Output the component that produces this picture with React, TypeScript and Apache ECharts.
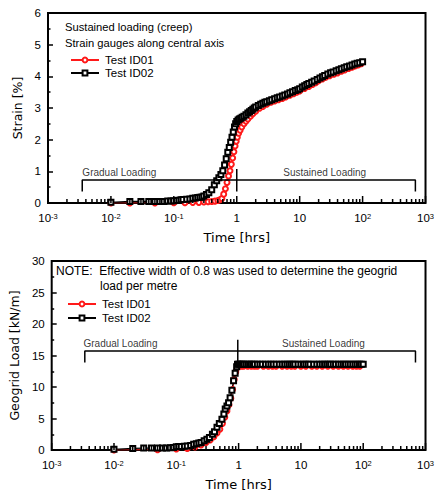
import React, { useEffect, useRef } from "react";
import * as echarts from "echarts";

// ---------- Data ----------
// Top: strain [%] vs time [hrs]
const strainTimeID01 = [0.01,0.02,0.05,0.1,0.15,0.2,0.25,0.3,0.35,0.4,0.45,0.5,0.54,0.58,0.62,0.66,0.7,0.74,0.78,0.82,0.86,0.9,0.94,0.98,1.02,1.07,1.13,1.2,1.3,1.4,1.5,1.65,1.8,2.0,2.3,2.6,3.0,3.5,4.0,4.6,5.3,6.0,7.0,8.0,9.0,10,12,14,16,18,20,23,26,30,35,40,46,52,60,68,76,85,95];
const strainID01 = [0,0,0,0.01,0.01,0.02,0.02,0.03,0.04,0.05,0.06,0.08,0.1,0.14,0.28,0.45,0.65,0.85,1.02,1.22,1.42,1.62,1.8,1.95,2.08,2.2,2.3,2.4,2.5,2.58,2.65,2.74,2.82,2.9,2.99,3.05,3.12,3.18,3.22,3.26,3.3,3.35,3.4,3.45,3.5,3.54,3.62,3.68,3.74,3.8,3.86,3.92,3.97,4.02,4.07,4.11,4.16,4.2,4.25,4.29,4.33,4.36,4.4];

const strainTimeID02 = [0.01,0.02,0.03,0.04,0.05,0.06,0.07,0.08,0.09,0.1,0.11,0.12,0.13,0.14,0.16,0.18,0.2,0.22,0.24,0.26,0.28,0.3,0.33,0.36,0.4,0.44,0.48,0.52,0.56,0.6,0.64,0.68,0.72,0.76,0.8,0.84,0.88,0.92,0.96,1.0,1.05,1.1,1.16,1.22,1.3,1.4,1.5,1.6,1.7,1.8,1.9,2.0,2.2,2.4,2.6,2.8,3.0,3.3,3.6,4.0,4.4,4.8,5.3,5.8,6.4,7.0,7.7,8.5,9.3,10,11,12,13,14,15.5,17,19,21,23,25,28,31,34,38,42,46,51,56,62,68,75,82,90,100];
const strainID02 = [0.02,0.05,0.05,0.05,0.05,0.05,0.05,0.06,0.06,0.07,0.08,0.09,0.1,0.11,0.12,0.13,0.15,0.16,0.17,0.18,0.19,0.22,0.27,0.32,0.42,0.58,0.7,0.8,0.9,1.02,1.2,1.4,1.6,1.75,1.92,2.08,2.24,2.4,2.5,2.57,2.62,2.65,2.68,2.71,2.74,2.79,2.84,2.88,2.92,2.96,3.0,3.03,3.08,3.12,3.15,3.18,3.2,3.23,3.26,3.29,3.32,3.35,3.38,3.41,3.44,3.48,3.51,3.55,3.58,3.61,3.66,3.7,3.74,3.77,3.81,3.85,3.9,3.95,3.99,4.03,4.07,4.11,4.14,4.18,4.21,4.24,4.27,4.3,4.33,4.36,4.39,4.41,4.43,4.46];

// Bottom: geogrid load [kN/m] vs time [hrs]
const loadTimeID01 = [0.01,0.05,0.1,0.15,0.2,0.25,0.3,0.35,0.4,0.45,0.5,0.55,0.6,0.65,0.7,0.75,0.8,0.85,0.9,0.95,1.0,1.1,1.2,1.4,1.6,1.8,2.0,2.5,3.0,3.5,4.0,5,6,7,8,10,12,15,18,22,27,33,40,48,57,68,78,88];
const loadID01 = [0,0.05,0.15,0.25,0.5,0.8,1.2,1.6,2.1,2.7,3.3,4.2,5.2,6.2,7.2,8.2,9.6,11.2,12.4,13.1,13.3,13.3,13.3,13.3,13.3,13.3,13.3,13.3,13.3,13.3,13.3,13.3,13.3,13.3,13.3,13.3,13.3,13.3,13.3,13.3,13.3,13.3,13.3,13.3,13.3,13.3,13.3,13.3];

const loadTimeID02 = [0.01,0.02,0.03,0.04,0.05,0.06,0.07,0.08,0.09,0.1,0.11,0.12,0.135,0.15,0.17,0.19,0.21,0.23,0.25,0.28,0.31,0.34,0.38,0.41,0.45,0.49,0.54,0.58,0.61,0.65,0.69,0.73,0.78,0.83,0.88,0.93,0.96,1.0,1.05,1.1,1.15,1.2,1.3,1.4,1.5,1.6,1.7,1.8,2.0,2.2,2.4,2.7,3.0,3.3,3.6,4.0,4.5,5,5.5,6,6.5,7,7.5,8,9,10,11,12,13,14,16,18,20,22,24,26,28,30,33,36,40,44,48,52,57,62,68,74,80,87,93,100];
const loadID02 = [0.1,0.25,0.3,0.3,0.3,0.3,0.3,0.35,0.4,0.5,0.55,0.55,0.6,0.65,0.7,0.9,1.0,1.1,1.2,1.45,1.7,2.0,2.5,2.9,3.6,4.2,4.9,5.7,6.5,7.0,7.5,8.3,9.5,11.0,12.2,13.2,13.6,13.6,13.6,13.6,13.6,13.6,13.6,13.6,13.6,13.6,13.6,13.6,13.6,13.6,13.6,13.6,13.6,13.6,13.6,13.6,13.6,13.6,13.6,13.6,13.6,13.6,13.6,13.6,13.6,13.6,13.6,13.6,13.6,13.6,13.6,13.6,13.6,13.6,13.6,13.6,13.6,13.6,13.6,13.6,13.6,13.6,13.6,13.6,13.6,13.6,13.6,13.6,13.6,13.6,13.6,13.6];

// Loading-phase brackets [time, value]
const strainBracketOuter = [[0.0035, 0.36], [0.0035, 0.73], [690, 0.73], [690, 0.36]];
const strainBracketMid = [[1, 1.07], [1, 0.36]];
const loadBracketOuter = [[0.0034, 13.9], [0.0034, 15.7], [690, 15.7], [690, 13.9]];
const loadBracketMid = [[0.97, 17.5], [0.97, 13.1]];
const strainPhaseLabels = [
  { name: "Gradual Loading", value: [0.0136, 0.73] },
  { name: "Sustained Loading", value: [25, 0.73] },
];
const loadPhaseLabels = [
  { name: "Gradual Loading", value: [0.0127, 15.7] },
  { name: "Sustained Loading", value: [23, 15.7] },
];

const seriesNames = ["Test ID01", "Test ID02"];
const RED = "#ff1a1a";

function zip(xs: number[], ys: number[]) {
  return xs.map((x, i) => [x, ys[i]]);
}

// log-axis tick positions: decades (major) and 2..9 (minor)
const logTicks: number[][] = [];
for (let e = -3; e <= 3; e++) {
  logTicks.push([Math.pow(10, e), 1]);
  if (e < 3) for (let m = 2; m <= 9; m++) logTicks.push([m * Math.pow(10, e), 0]);
}

export default function App() {
  const ref = useRef<HTMLDivElement>(null);
  useEffect(() => {
    document.body.style.margin = "0";
    const chart = echarts.init(ref.current!, null, { renderer: "svg" });
    const labelFont = "Liberation Sans";
    const titleFont = "DejaVu Sans";

    const xAxisFor = (gi: number) => ({
      type: "log",
      logBase: 10,
      gridIndex: gi,
      min: 0.001,
      max: 1000,
      splitNumber: 6,
      axisLine: { show: false },
      axisTick: { show: false },
      splitLine: { show: false },
      axisLabel: {
        color: "#000",
        fontFamily: labelFont,
        fontSize: 11.5,
        margin: 9,
        showMinLabel: true,
        showMaxLabel: true,
        formatter: (v: number) => {
          const e = Math.round(Math.log10(v));
          if (e === 0) return "1";
          if (e === 1) return "10";
          return "10{sup|" + e + "}";
        },
        rich: {
          sup: { fontSize: 7.5, fontFamily: labelFont, color: "#000", verticalAlign: "top", padding: [0, 0, 4, 0] },
        },
      },
      name: "Time [hrs]",
      nameLocation: "middle",
      nameGap: 28,
      nameTextStyle: { fontFamily: titleFont, fontSize: 13, color: "#000" },
    });

    const yAxisFor = (gi: number, max: number, interval: number, name: string, gap: number) => ({
      type: "value",
      gridIndex: gi,
      min: 0,
      max,
      interval,
      axisLine: { show: false },
      axisTick: { show: true, inside: true, length: 5, lineStyle: { color: "#000", width: 1.5 } },
      minorTick: { show: true, splitNumber: 2, length: 2.5, lineStyle: { color: "#000", width: 1.5 } },
      splitLine: { show: false },
      axisLabel: { color: "#000", fontFamily: labelFont, fontSize: 11.5, margin: 7 },
      name,
      nameLocation: "middle",
      nameRotate: 90,
      nameGap: gap,
      nameTextStyle: { fontFamily: titleFont, fontSize: 12.5, color: "#000" },
    });

    const tickSeries = (gi: number) => ({
      type: "custom",
      xAxisIndex: gi,
      yAxisIndex: gi,
      silent: true,
      z: 5,
      data: logTicks,
      renderItem: (_p: any, api: any) => {
        const p = api.coord([api.value(0), 0]);
        const len = api.value(1) ? 7 : 4;
        return {
          type: "line",
          shape: { x1: p[0], y1: p[1], x2: p[0], y2: p[1] - len },
          style: { stroke: "#000", lineWidth: 1.5 },
        };
      },
    });

    const dataSeries = (gi: number, name: string, data: number[][], color: string, symbol: string) => ({
      type: "line",
      name,
      xAxisIndex: gi,
      yAxisIndex: gi,
      data,
      symbol,
      symbolSize: 5,
      showAllSymbol: true,
      lineStyle: { color, width: 1.2 },
      itemStyle: { color, borderColor: color, borderWidth: 1 },
      z: 3,
    });

    const bracket = (gi: number, data: number[][]) => ({
      type: "line",
      xAxisIndex: gi,
      yAxisIndex: gi,
      data,
      symbol: "none",
      silent: true,
      lineStyle: { color: "#000", width: 1.5 },
      z: 4,
    });

    const phaseText = (gi: number, data: any[]) => ({
      type: "scatter",
      xAxisIndex: gi,
      yAxisIndex: gi,
      data,
      symbolSize: 1,
      silent: true,
      itemStyle: { color: "rgba(0,0,0,0)" },
      label: {
        show: true,
        position: "top",
        distance: 2,
        formatter: (p: any) => p.name,
        color: "#000",
        fontFamily: labelFont,
        fontSize: 10,
      },
      z: 4,
    });

    const legendCommon = {
      orient: "vertical",
      data: seriesNames,
      itemWidth: 28,
      itemHeight: 6,
      selectedMode: false,
      textStyle: { fontFamily: labelFont, fontSize: 11.5, color: "#000", padding: [0, 0, 0, 1] },
    };

    chart.setOption({
      animation: false,
      grid: [
        { left: 48, top: 13, width: 382, height: 190, show: true, borderColor: "#000", borderWidth: 2, backgroundColor: "transparent" },
        { left: 48, top: 261, width: 382, height: 190, show: true, borderColor: "#000", borderWidth: 2, backgroundColor: "transparent" },
      ],
      xAxis: [xAxisFor(0), xAxisFor(1)],
      yAxis: [yAxisFor(0, 6, 1, "Strain [%]", 23), yAxisFor(1, 30, 5, "Geogrid Load [kN/m]", 30)],
      legend: [
        { ...legendCommon, left: 65, top: 49, itemGap: 1 },
        { ...legendCommon, left: 62, top: 293, itemGap: 2 },
      ],
      graphic: [
        { type: "text", left: 65, top: 21, style: { text: "Sustained loading (creep)", font: '11.2px "Liberation Sans"', fill: "#000" } },
        { type: "text", left: 65, top: 37, style: { text: "Strain gauges along central axis", font: '11.2px "Liberation Sans"', fill: "#000" } },
        { type: "text", left: 56, top: 265, style: { text: "NOTE:\u00a0 Effective width of 0.8 was used to determine the geogrid", font: '12px "Liberation Sans"', fill: "#000" } },
        { type: "text", left: 100, top: 280, style: { text: "load per metre", font: '12px "Liberation Sans"', fill: "#000" } },
      ],
      series: [
        tickSeries(0),
        tickSeries(1),
        bracket(0, strainBracketOuter),
        bracket(0, strainBracketMid),
        bracket(1, loadBracketOuter),
        bracket(1, loadBracketMid),
        phaseText(0, strainPhaseLabels),
        phaseText(1, loadPhaseLabels),
        dataSeries(0, seriesNames[0], zip(strainTimeID01, strainID01), RED, "emptyCircle"),
        dataSeries(0, seriesNames[1], zip(strainTimeID02, strainID02), "#000", "emptyRect"),
        dataSeries(1, seriesNames[0], zip(loadTimeID01, loadID01), RED, "emptyCircle"),
        dataSeries(1, seriesNames[1], zip(loadTimeID02, loadID02), "#000", "emptyRect"),
      ],
    });
    return () => chart.dispose();
  }, []);
  return <div ref={ref} style={{ position: "absolute", left: 0, top: 0, width: 437, height: 492 }} />;
}
